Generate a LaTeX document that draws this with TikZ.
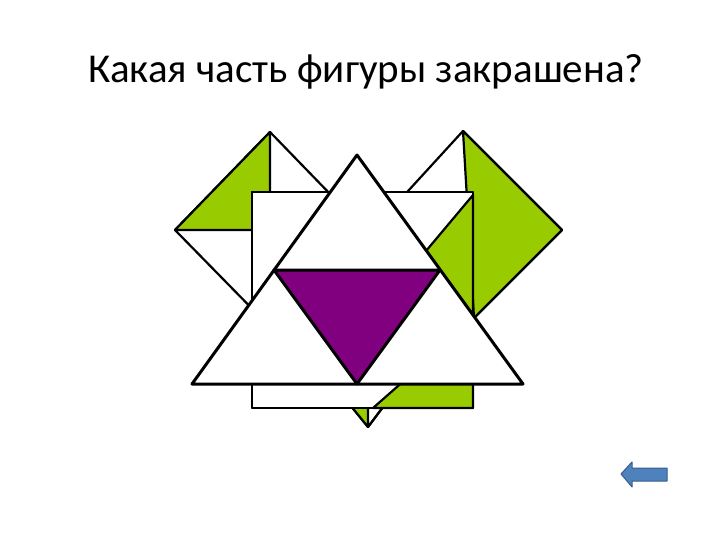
\documentclass[tikz,border=0pt]{standalone}
\usepackage{fontspec}
\setmainfont{Carlito}
\definecolor{lgreen}{RGB}{153,204,0}
\definecolor{purp}{RGB}{128,0,128}
\definecolor{arrowblue}{RGB}{79,129,189}
\definecolor{arrowedge}{RGB}{56,93,138}
\begin{document}
\begin{tikzpicture}[x=1pt,y=-1pt,line join=round,
  piece/.style={draw=black,line width=2.2pt},
  tri/.style={draw=black,line width=3pt}]
\useasboundingbox (0,0) rectangle (720,540);
\fill[white] (0,0) rectangle (720,540);
% title
\node[anchor=base,font=\fontsize{41}{48}\selectfont] (title) at (366,83) {Какая часть фигуры закрашена?};
% left diamond
\coordinate (LT) at (270,132);
\coordinate (LL) at (175,230);
\coordinate (LB) at (270,327);
\coordinate (LR) at (365,230);
\coordinate (LC) at (270,230);
\filldraw[fill=white,piece] (LT)--(LR)--(LB)--(LL)--cycle;
\filldraw[fill=lgreen,piece] (LT)--(LL)--(LC)--cycle;
\draw[piece] (LT)--(LB) (LL)--(LR);
% right diamond
\coordinate (RT) at (463,131);
\coordinate (RR) at (562,230);
\coordinate (RB) at (474,318);
\coordinate (RL) at (376,226);
\coordinate (RC) at (468,226);
\filldraw[fill=white,piece] (RT)--(RR)--(RB)--(RL)--cycle;
\filldraw[fill=lgreen,piece] (RT)--(RR)--(RB)--cycle;
\draw[piece] (RL)--(RC);
% bottom tip
\coordinate (TL) at (342,395);
\coordinate (TM) at (368,395);
\coordinate (TR) at (392,395);
\coordinate (TB) at (368,427);
\filldraw[fill=white,piece] (TL)--(TR)--(TB)--cycle;
\fill[lgreen] (TL)--(TM)--(TB)--cycle;
\draw[piece] (TL)--(TR)--(TB)--cycle (TM)--(TB);
% rectangle
\coordinate (Q1) at (252,192);
\coordinate (Q2) at (473,408);
\filldraw[fill=white,piece] (Q1) rectangle (Q2);
\filldraw[fill=lgreen,piece] (473,195)--(426,251)--(473,315)--cycle;
\filldraw[fill=lgreen,piece] (373,408)--(473,320)--(473,408)--cycle;
\draw[piece] (Q1) rectangle (Q2);
% big triangle
\coordinate (A) at (357,155);
\coordinate (ML) at (274,270);
\coordinate (MR) at (440,270);
\coordinate (BL) at (192,384);
\coordinate (MB) at (357,384);
\coordinate (BR) at (523,384);
\filldraw[fill=white,tri] (A)--(BL)--(BR)--cycle;
\filldraw[fill=purp,tri] (ML)--(MR)--(MB)--cycle;
% back arrow
\filldraw[fill=arrowblue,draw=arrowedge,line width=1pt]
  (621,474)--(632,462)--(632,468)--(667,468)--(667,481)--(632,481)--(632,487)--cycle;
\end{tikzpicture}
\end{document}
